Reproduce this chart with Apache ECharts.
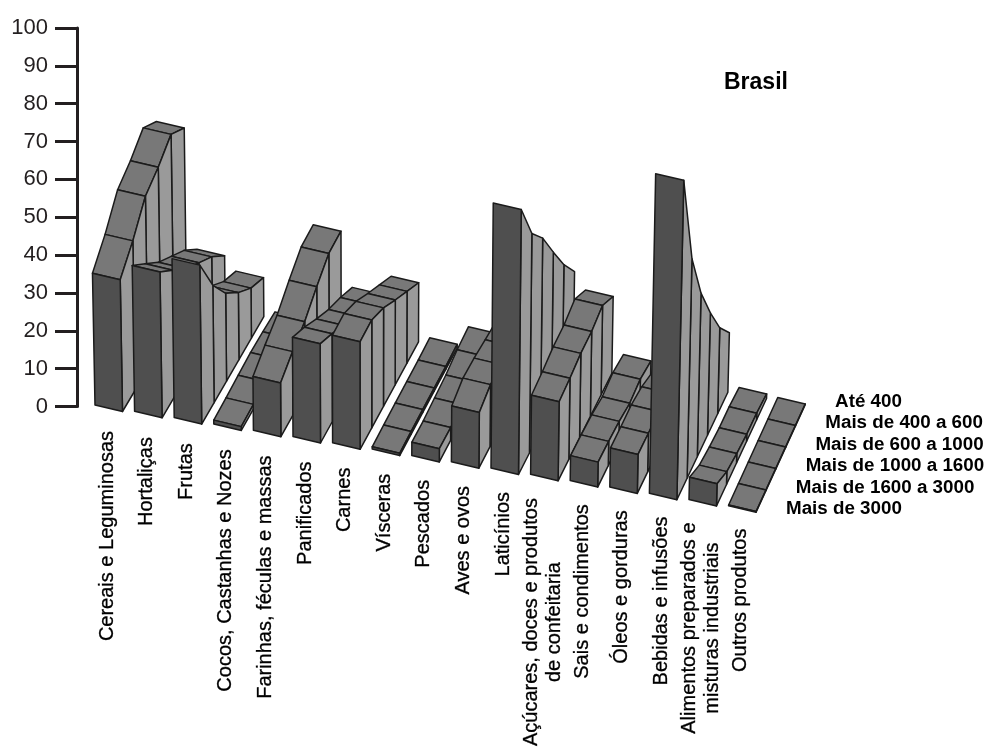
<!DOCTYPE html>
<html lang="pt">
<head>
<meta charset="utf-8">
<title>Brasil</title>
<style>html,body{margin:0;padding:0;background:#fff}#chart{width:989px;height:747px}</style>
<script src="https://cdn.jsdelivr.net/npm/echarts@6/dist/echarts.min.js"></script>
</head>
<body>
<div id="chart"></div>
<script>
// Food groups along the floor of the chart
const categories = [
  'Cereais e Leguminosas', 'Hortaliças', 'Frutas', 'Cocos, Castanhas e Nozes',
  'Farinhas, féculas e massas', 'Panificados', 'Carnes', 'Vísceras', 'Pescados',
  'Aves e ovos', 'Laticínios', 'Açúcares, doces e produtos\nde confeitaria',
  'Sais e condimentos', 'Óleos e gorduras', 'Bebidas e infusões',
  'Alimentos preparados e\nmisturas industriais', 'Outros produtos'
];

// Income classes, from the front row to the back row
const rowNames = ['Mais de 3000', 'Mais de 1600 a 3000', 'Mais de 1000 a 1600',
                  'Mais de 600 a 1000', 'Mais de 400 a 600', 'Até 400'];

const maisDe3000   = [34.8, 38.5, 42.0, 1.0, 14.2, 26.2, 28.4, 0.6, 3.5, 14.7, 70.0, 20.9, 6.6, 10.3, 84.4, 5.9, 0.2];
const de1600a3000  = [39.4, 33.3, 31.0, 1.2, 16.8, 23.2, 28.5, 0.7, 3.4, 16.4, 58.0, 21.4, 6.4, 10.2, 58.0, 3.4, 0.2];
const de1000a1600  = [45.5, 28.0, 23.2, 1.5, 19.0, 19.7, 26.0, 0.8, 3.8, 16.0, 51.1, 22.3, 6.0, 10.3, 43.2, 2.5, 0.2];
const de600a1000   = [47.5, 23.9, 17.7, 1.8, 22.6, 16.5, 22.4, 0.8, 4.2, 15.2, 41.7, 22.4, 5.1, 9.4, 32.3, 1.9, 0.2];
const de400a600    = [50.5, 19.8, 13.2, 1.6, 25.7, 14.0, 19.0, 0.8, 5.2, 14.5, 32.7, 23.6, 5.8, 7.4, 22.7, 1.8, 0.2];
const ate400       = [46.5, 14.4, 10.3, 1.2, 25.9, 11.0, 15.6, 1.0, 5.6, 14.0, 25.2, 20.3, 4.9, 6.0, 15.7, 1.2, 0.2];

const rows = [maisDe3000, de1600a3000, de1000a1600, de600a1000, de400a600, ate400];

// Oblique projection of the floor plane
const FRONT_DX = -1.8, FLOOR_DY = -1.5;
const CAT_DY = 6.3;
const WIDTH_X = 27.5, WIDTH_Y = 6.5;
const DEPTH_X0 = 64, DEPTH_X_SLOPE = -0.93, ROW_DY = 21.5;
const VANISH_X = 370, LEAN = 0.00007;

const FONT = '"Liberation Sans", Arial, sans-serif';
const INK = '#1b1b1b';
const lineStyle = { stroke: INK, lineWidth: 1.5, lineJoin: 'round' };

const measure = document.createElement('canvas').getContext('2d');
measure.font = '20px "Liberation Sans"';

function project(api, c, r, t, v) {
  const base = api.coord([c, 0]);
  const top = api.coord([c, v]);
  const step = (DEPTH_X0 + DEPTH_X_SLOPE * c) / 5;
  const x = base[0] + FRONT_DX + t * WIDTH_X + r * step;
  const y = top[1] + FLOOR_DY + c * CAT_DY + t * WIDTH_Y - r * ROW_DY;
  return [x + (x - VANISH_X) * LEAN * (base[1] - top[1]), y];
}

function quad(points, fill) {
  return { type: 'polygon', shape: { points }, style: Object.assign({ fill }, lineStyle) };
}

// One ribbon per food group, painted from its back row to its front row
function renderRibbon(params, api) {
  const c = api.value(0);
  const values = rows.map((_, r) => api.value(r + 1));
  const children = [];
  for (let r = rows.length - 2; r >= 0; r--) {
    const fl = project(api, c, r, 0, values[r]);
    const fr = project(api, c, r, 1, values[r]);
    const bl = project(api, c, r + 1, 0, values[r + 1]);
    const br = project(api, c, r + 1, 1, values[r + 1]);
    const facing = (fr[0] - fl[0]) * (bl[1] - fl[1]) - (fr[1] - fl[1]) * (bl[0] - fl[0]) < 0;
    if (facing) children.push(quad([fl, fr, br, bl], '#787878'));
    children.push(quad([fr, br, project(api, c, r + 1, 1, 0), project(api, c, r, 1, 0)], '#9a9a9a'));
  }
  children.push(quad([project(api, c, 0, 0, values[0]), project(api, c, 0, 1, values[0]),
                      project(api, c, 0, 1, 0), project(api, c, 0, 0, 0)], '#4f4f4f'));
  return { type: 'group', children };
}

// Vertical food-group names under each ribbon; two-line names are centred on each other
function renderCategoryLabel(params, api) {
  const c = api.value(0);
  const base = api.coord([c, 0]);
  const lines = categories[c].split('\n');
  const widest = Math.max(...lines.map(l => measure.measureText(l).width));
  const children = lines.map((line, i) => ({
    type: 'text',
    x: base[0] + 10.2 + (i - (lines.length - 1) / 2) * 23,
    y: base[1] + 24.5 + c * 6.1 + widest / 2,
    rotation: Math.PI / 2,
    style: { text: line, font: '20px ' + FONT, fill: '#000', stroke: '#000', lineWidth: 0.3, align: 'center', verticalAlign: 'middle' }
  }));
  return { type: 'group', children };
}

// Income class names beside the back end of the last ribbon
function renderRowLabel(params, api) {
  const r = api.value(0);
  const c = categories.length - 1;
  const p = project(api, c, r, 0, 0);
  return {
    type: 'text',
    x: p[0] + 57.4,
    y: p[1] + 3.2,
    style: { text: rowNames[r], font: 'bold 18.8px ' + FONT, fill: '#000', align: 'left', verticalAlign: 'middle' }
  };
}

const chart = echarts.init(document.getElementById('chart'), null, { renderer: 'canvas' });
chart.setOption({
  animation: false,
  backgroundColor: '#fff',
  title: {
    text: 'Brasil', left: 719, top: 66,
    textStyle: { fontFamily: FONT, fontSize: 23, fontWeight: 'bold', color: '#000' }
  },
  grid: { left: 77, top: 28, width: 673.2, height: 378.5 },
  xAxis: { type: 'category', data: categories, show: false },
  yAxis: {
    type: 'value', min: 0, max: 100, interval: 10,
    axisLine: { show: true, lineStyle: { color: '#231f20', width: 3 } },
    axisTick: { show: true, length: 22, lineStyle: { color: '#231f20', width: 3 } },
    axisLabel: { margin: 29, fontFamily: FONT, fontSize: 22, color: '#231f20', padding: [0, 0, 4, 0] },
    splitLine: { show: false }
  },
  series: [
    {
      type: 'custom', name: 'Grupos de alimentos', renderItem: renderRibbon, clip: false,
      encode: { x: 0, y: 1 }, silent: true,
      data: categories.map((_, c) => [c, ...rows.map(row => row[c])])
    },
    {
      type: 'custom', name: 'Rótulos', renderItem: renderCategoryLabel, clip: false,
      encode: { x: 0 }, silent: true,
      data: categories.map((_, c) => [c])
    },
    {
      type: 'custom', name: 'Classes de rendimento', renderItem: renderRowLabel, clip: false,
      silent: true,
      data: rowNames.map((_, r) => [r])
    }
  ]
});
</script>
</body>
</html>
